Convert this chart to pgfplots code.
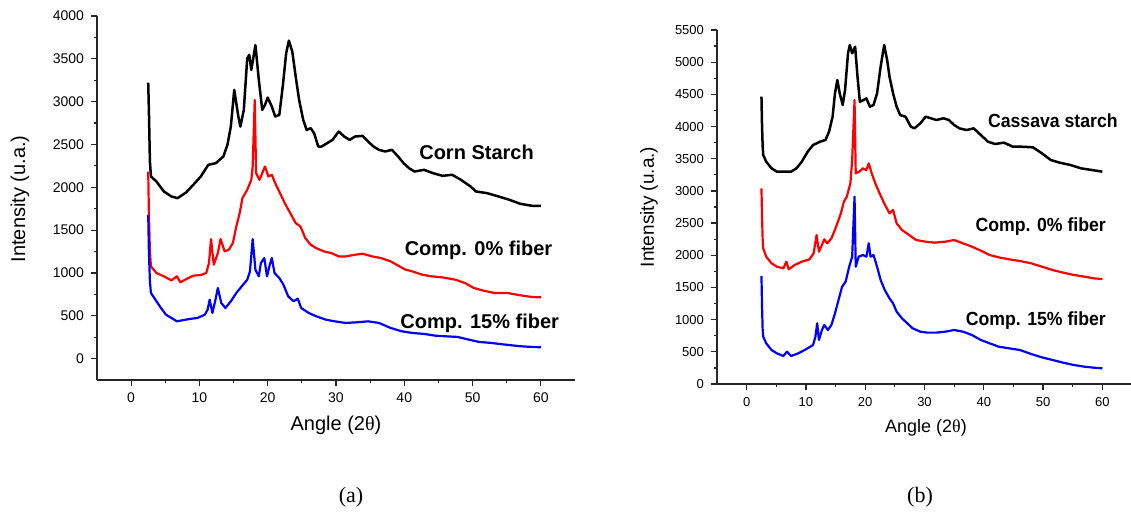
\documentclass[border=0pt]{standalone}
\usepackage{fontspec}
\setmainfont{Liberation Sans}
\newfontfamily\serif{Liberation Serif}
\usepackage{pgfplots}
\pgfplotsset{compat=1.18}

\pgfplotsset{xrd/.style={
  scale only axis, anchor=south west, clip=false,
  axis lines=left, axis line style={-, line width=0.65pt, black!85},
  tick align=outside, major tick length=3pt, minor tick length=1.7pt,
  every tick/.style={black!85, line width=0.6pt},
  xmin=-5, xmax=65, xtick={0,10,...,60}, minor x tick num=1, minor y tick num=1,
  /pgf/number format/assume math mode=true, /pgf/number format/1000 sep={},
  every axis plot/.append style={line width=1.1pt, line join=round},
}}

\begin{document}
\begin{tikzpicture}
\path[use as bounding box] (0,0) rectangle (565.5pt,257.5pt);

% ---- (a) corn starch ----
\begin{axis}[xrd, at={(48.5pt,67.5pt)}, width=239pt, height=182pt,
  ymin=-250, ymax=4000, ytick={0,500,...,4000},
  tick label style={font=\fontsize{7}{8}\selectfont}]
\addplot[black, line width=1.25pt] coordinates {
(2.5,3222) (2.6,2900) (2.75,2300) (2.9,2126) (3.7,2068) (4.8,1951) (5.9,1893) (6.8,1873)
(8.05,1940) (9.1,2029) (10.2,2126) (11.3,2262) (12.4,2282) (13.5,2359) (14.1,2495) (14.6,2709)
(15.1,3137) (15.7,2826) (16.0,2709) (16.5,2904) (17.0,3506) (17.3,3545) (17.6,3370) (18.2,3661)
(18.7,3253) (19.2,2904) (19.6,2962) (20.0,3047) (20.6,2943) (21.1,2826) (21.7,2845) (22.2,3176)
(22.7,3564) (23.1,3712) (23.6,3584) (24.1,3292) (24.6,3020) (25.2,2787) (25.7,2670) (26.3,2690)
(26.8,2631) (27.4,2476) (27.9,2476) (28.7,2515) (29.5,2554) (30.4,2651) (31.2,2593) (32.0,2554)
(32.8,2593) (33.9,2600) (34.7,2534) (35.5,2476) (36.3,2437) (37.2,2418) (38.2,2437) (39.1,2359)
(39.9,2282) (40.7,2223) (41.5,2184) (42.9,2204) (44.2,2165) (45.6,2134) (47.0,2146) (48.3,2087)
(49.7,2010) (50.5,1951) (52.1,1932) (53.8,1893) (55.4,1854) (57.0,1807) (58.7,1784) (60.0,1784)
};
\addplot[red] coordinates {
(2.5,2184) (2.6,1700) (2.75,1250) (2.9,1077) (3.7,999) (4.8,960) (5.9,913) (6.7,960) (7.2,890)
(8.1,929) (9.1,968) (10.2,976) (11.0,999) (11.4,1116) (11.7,1395) (12.1,1096) (12.7,1232)
(13.1,1395) (13.7,1252) (14.3,1271) (14.9,1349) (15.4,1543) (15.9,1699) (16.3,1873) (17.0,1971)
(17.6,2087) (17.8,2243) (18.1,3020) (18.3,2165) (18.8,2087) (19.2,2165) (19.6,2243) (20.1,2126)
(20.6,2146) (21.1,2048) (21.8,1932) (22.5,1815) (23.3,1699) (24.1,1582) (24.8,1543) (25.5,1407)
(26.3,1329) (27.1,1290) (28.2,1252) (29.3,1232) (30.4,1193) (31.4,1193) (32.8,1213) (33.9,1224)
(35.3,1193) (36.6,1174) (38.0,1135) (39.3,1077) (40.2,1038) (41.2,1018) (42.6,980) (44.0,960)
(45.6,948) (47.5,921) (48.9,882) (50.2,824) (51.6,793) (53.2,766) (55.1,766) (57.0,739)
(58.7,719) (60.0,715)
};
\addplot[blue] coordinates {
(2.5,1679) (2.6,1250) (2.75,900) (2.9,766) (3.4,707) (4.2,610) (5.1,513) (5.9,474) (6.7,435)
(7.5,447) (8.6,463) (9.7,474) (10.8,513) (11.2,571) (11.5,688) (11.9,533) (12.3,669) (12.7,824)
(13.2,649) (13.8,591) (14.6,669) (15.4,766) (16.2,844) (17.0,921) (17.4,1018) (17.8,1395)
(18.2,1038) (18.7,960) (19.0,1116) (19.5,1174) (19.9,960) (20.3,1096) (20.6,1174) (21.0,999)
(21.7,941) (22.3,863) (23.0,727) (23.8,669) (24.4,700) (24.9,591) (26.0,533) (27.1,494)
(28.5,455) (29.8,435) (31.4,416) (33.1,424) (34.7,435) (36.3,416) (38.0,358) (39.6,319)
(41.2,299) (42.9,288) (44.5,268) (46.1,260) (47.8,253) (49.4,222) (51.0,194) (52.7,183)
(54.8,163) (57.0,144) (58.7,136) (60.0,132)
};
\node[anchor=east, font=\fontsize{10}{12}\selectfont\bfseries] at (axis cs:60,2410) {Corn Starch};
\node[anchor=east, font=\fontsize{10}{12}\selectfont\bfseries] at (axis cs:62.7,1267) {Comp. 0\% fiber};
\node[anchor=east, font=\fontsize{10}{12}\selectfont\bfseries] at (axis cs:63.7,408) {Comp. 15\% fiber};
\end{axis}

% ---- (b) cassava starch ----
\begin{axis}[xrd, at={(358.5pt,65.5pt)}, width=207.5pt, height=177pt,
  ymin=0, ymax=5500, ytick={0,500,...,5500},
  tick label style={font=\fontsize{6.5}{8}\selectfont}]
\addplot[black, line width=1.25pt] coordinates {
(2.5,4464) (2.6,4000) (2.7,3700) (2.8,3558) (3.3,3454) (4.2,3351) (5.1,3299) (6.3,3299) (7.5,3299)
(8.4,3351) (9.3,3454) (10.3,3610) (11.2,3713) (12.4,3765) (13.3,3791) (13.9,3920) (14.5,4153)
(14.9,4516) (15.3,4723) (15.7,4516) (16.2,4335) (16.6,4568) (17.1,5138) (17.4,5267) (17.8,5138)
(18.3,5241) (18.7,4775) (19.1,4386) (19.7,4412) (20.2,4438) (20.8,4309) (21.4,4335) (22.0,4516)
(22.6,4930) (23.2,5267) (23.7,5034) (24.1,4775) (24.7,4516) (25.3,4309) (25.9,4179) (26.8,4153)
(27.7,3998) (28.3,3972) (29.3,4050) (30.2,4153) (31.1,4128) (32.0,4102) (33.2,4128) (34.1,4102)
(35.0,4024) (35.9,3972) (37.1,3946) (38.3,3972) (39.5,3869) (40.7,3765) (41.9,3729) (43.4,3750)
(44.9,3687) (46.4,3687) (48.3,3677) (49.8,3584) (51.3,3480) (52.8,3439) (54.6,3403) (56.4,3351)
(58.2,3325) (60.0,3299)
};
\addplot[red] coordinates {
(2.5,3040) (2.6,2600) (2.7,2250) (2.8,2108) (3.3,1978) (4.2,1875) (5.1,1823) (6.2,1797) (6.7,1901)
(7.1,1782) (8.1,1849) (9.3,1901) (10.6,1937) (11.3,2030) (11.8,2315) (12.2,2056) (12.7,2160)
(13.1,2248) (13.6,2186) (14.3,2263) (15.1,2444) (15.9,2652) (16.4,2833) (16.9,2911) (17.5,3118)
(17.8,3480) (18.2,4412) (18.4,3273) (19.0,3299) (19.6,3351) (20.2,3325) (20.6,3428) (21.1,3273)
(21.7,3118) (22.3,2988) (23.2,2807) (24.1,2652) (24.7,2704) (25.3,2496) (26.2,2393) (27.4,2315)
(28.6,2237) (30.2,2211) (31.7,2196) (33.5,2211) (35.0,2237) (36.5,2186) (38.0,2134) (39.5,2072)
(41.0,2004) (42.5,1968) (44.3,1937) (46.1,1911) (48.0,1875) (49.8,1823) (51.6,1771) (53.4,1730)
(55.2,1694) (57.0,1668) (58.5,1642) (60.0,1631)
};
\addplot[blue] coordinates {
(2.5,1678) (2.6,1200) (2.7,850) (2.8,735) (3.3,632) (4.2,528) (5.1,476) (6.2,435) (6.8,502)
(7.5,435) (8.7,476) (10.0,539) (11.2,606) (11.6,735) (11.9,943) (12.2,684) (12.7,839) (13.1,917)
(13.7,839) (14.3,917) (14.9,1098) (15.5,1305) (16.1,1512) (16.7,1590) (17.3,1823) (17.8,1978)
(18.2,2911) (18.4,1823) (18.9,1978) (19.6,2004) (20.2,1978) (20.6,2186) (20.9,1978) (21.4,2004)
(22.0,1823) (22.6,1616) (23.3,1460) (24.1,1331) (24.7,1253) (25.3,1124) (26.2,1020) (27.1,943)
(28.0,865) (29.3,813) (30.5,798) (32.0,798) (33.5,813) (35.0,839) (36.5,813) (38.0,761)
(39.5,684) (41.0,632) (42.5,580) (44.3,554) (46.1,528) (48.0,466) (49.8,414) (51.6,373)
(53.4,331) (55.2,295) (57.0,269) (58.5,254) (60.0,243)
};
\node[anchor=east, xscale=0.93, font=\fontsize{9.5}{11}\selectfont\bfseries] at (axis cs:63.7,4089) {Cassava starch};
\node[anchor=east, xscale=0.93, font=\fontsize{9.5}{11}\selectfont\bfseries] at (axis cs:61.7,2446) {Comp. 0\% fiber};
\node[anchor=east, xscale=0.93, font=\fontsize{9.5}{11}\selectfont\bfseries] at (axis cs:61.7,984) {Comp. 15\% fiber};
\end{axis}

% axis titles and panel captions
\node[font=\fontsize{10}{12}\selectfont] at (168pt,45pt) {Angle (2{\serif θ})};
\node[font=\fontsize{9}{11}\selectfont] at (463pt,43.5pt) {Angle (2{\serif θ})};
\node[rotate=90, font=\fontsize{10}{12}\selectfont] at (10pt,158pt) {Intensity (u.a.)};
\node[rotate=90, font=\fontsize{9.5}{11}\selectfont] at (324.5pt,154pt) {Intensity (u.a.)};
\node[font=\serif\fontsize{11}{13}\selectfont] at (175.5pt,9pt) {(a)};
\node[font=\serif\fontsize{11}{13}\selectfont] at (460pt,9pt) {(b)};
\end{tikzpicture}
\end{document}
